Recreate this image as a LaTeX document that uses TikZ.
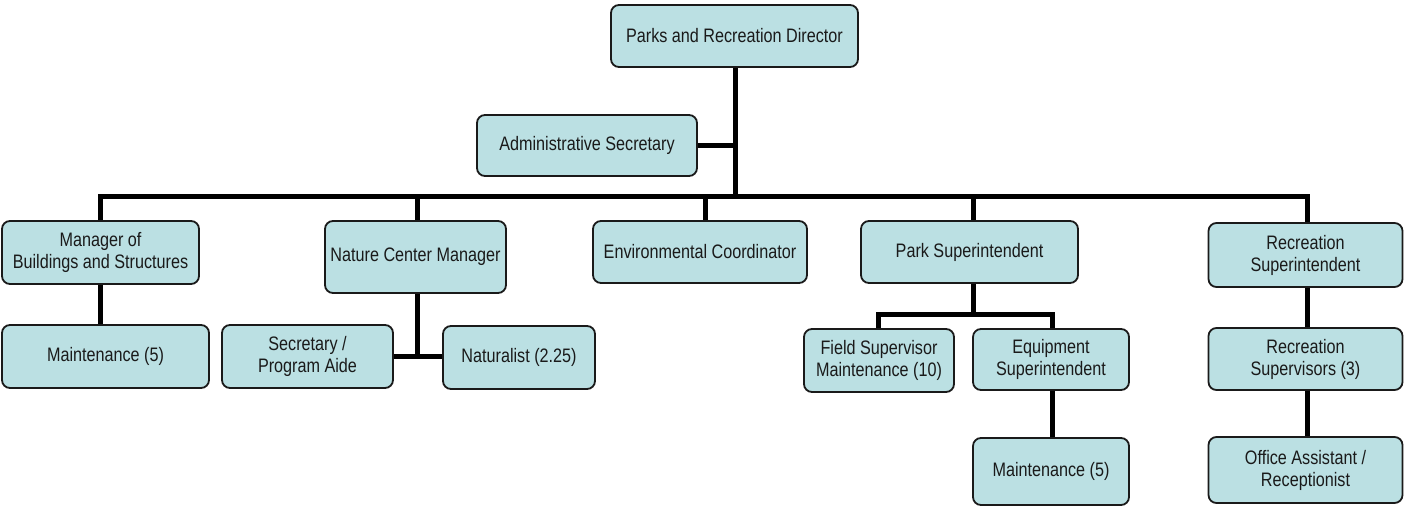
\documentclass[tikz,border=0pt]{standalone}
\usepackage{fontspec}
\setmainfont[FakeStretch=0.83]{Liberation Sans}
\definecolor{boxfill}{HTML}{BBE0E3}
\definecolor{ink}{HTML}{1A1A1A}
\begin{document}
\begin{tikzpicture}[x=1pt,y=-1pt,
  orgbox/.style={draw=ink, fill=boxfill, line width=1.8pt, rounded corners=8pt,
    inner sep=0pt, align=center, text=ink,
    font=\fontsize{19.5}{22}\selectfont},
  conn/.style={draw=black, line width=5pt, line join=miter}]
\useasboundingbox (0,0) rectangle (1404,506);

% top of the chart
\node[orgbox, minimum width=247pt, minimum height=62pt] (dir) at (734.5,36) {Parks and Recreation Director};
\node[orgbox, minimum width=220pt, minimum height=61pt] (adm) at (587,145.5) {Administrative Secretary};

% first level
\node[orgbox, minimum width=197pt, minimum height=63pt] (mgr) at (100.5,252.5) {Manager of\\Buildings and Structures};
\node[orgbox, minimum width=181pt, minimum height=72pt] (ncm) at (415.5,257) {Nature Center Manager};
\node[orgbox, minimum width=214pt, minimum height=62pt] (env) at (700,252) {Environmental Coordinator};
\node[orgbox, minimum width=217pt, minimum height=62pt] (park) at (969.5,252) {Park Superintendent};
\node[orgbox, minimum width=194pt, minimum height=64pt] (rsup) at (1305.5,255) {Recreation\\Superintendent};

% second level
\node[orgbox, minimum width=207pt, minimum height=63pt] (mnta) at (105.5,356.5) {Maintenance (5)};
\node[orgbox, minimum width=171pt, minimum height=63pt] (sec) at (307.5,356.5) {Secretary /\\Program Aide};
\node[orgbox, minimum width=152pt, minimum height=63pt] (nat) at (519,357.5) {Naturalist (2.25)};
\node[orgbox, minimum width=150pt, minimum height=63pt] (fld) at (879,360.5) {Field Supervisor\\Maintenance (10)};
\node[orgbox, minimum width=156pt, minimum height=61pt] (eqp) at (1051,359.5) {Equipment\\Superintendent};
\node[orgbox, minimum width=194pt, minimum height=62pt] (rsv) at (1305.5,359) {Recreation\\Supervisors (3)};

% third level
\node[orgbox, minimum width=156pt, minimum height=67pt] (mntb) at (1051,471.5) {Maintenance (5)};
\node[orgbox, minimum width=194pt, minimum height=66pt] (off) at (1305.5,470) {Office Assistant /\\Receptionist};

% junction points
\coordinate (bus) at (735,196);
\coordinate (ncmj) at (417,356.5);
\coordinate (parkj) at (973,314);

% director trunk and bus
\draw[conn] (dir.south -| bus) -- (bus);
\draw[conn] (adm.east) -- (adm.east -| bus);
\draw[conn] (mgr.north -| 100,0) -- (100,196) -- (1307,196) -- (rsup.north -| 1307,0);
\draw[conn] (417,196) -- (ncm.north -| ncmj);
\draw[conn] (705,196) -- (env.north -| 705,0);
\draw[conn] (973,196) -- (park.north -| parkj);

% nature center branch
\draw[conn] (ncm.south -| ncmj) -- (ncmj);
\draw[conn] (sec.east) -- (sec.east -| nat.west);

% buildings branch
\draw[conn] (mgr.south -| 100,0) -- (mnta.north -| 100,0);

% park branch
\draw[conn] (park.south -| parkj) -- (parkj);
\draw[conn] (fld.north -| 878,0) -- (878,314) -- (1052,314) -- (eqp.north -| 1052,0);
\draw[conn] (eqp.south -| 1052,0) -- (mntb.north -| 1052,0);

% recreation branch
\draw[conn] (rsup.south -| 1307,0) -- (rsv.north -| 1307,0);
\draw[conn] (rsv.south -| 1307,0) -- (off.north -| 1307,0);
\end{tikzpicture}
\end{document}
